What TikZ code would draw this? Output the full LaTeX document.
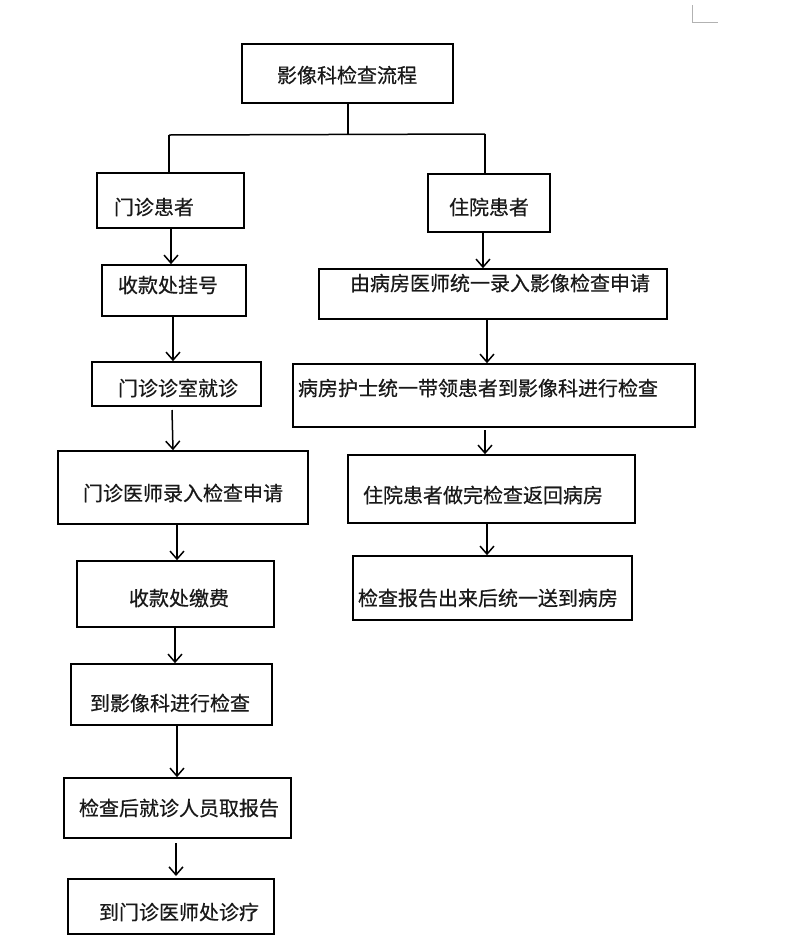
\documentclass[tikz,border=0pt]{standalone}
\usepackage{fontspec}
\newfontfamily\cjk[FakeBold=0.5]{Noto Sans CJK SC}
\usetikzlibrary{arrows.meta,calc}
\begin{document}
\begin{tikzpicture}[x=1pt,y=-1pt,
  box/.style={draw,line width=1.6pt,inner sep=0pt,fill=none},
  txt/.style={font=\cjk\fontsize{20}{24}\selectfont,inner sep=0pt,text=black!90},
  arr/.style={line width=1.5pt,-{Straight Barb[length=8pt,width=14pt,line width=1.5pt]}},
  ln/.style={line width=1.5pt}]
\useasboundingbox (0,0) rectangle (800,946);
\fill[white] (0,0) rectangle (800,946);
% faint corner mark
\draw[black!30,line width=0.6pt] (692,5) -- (692,22) -- (718,22);

% boxes
\node[box,minimum width=211pt,minimum height=59pt] (top)  at (347.5,73.5) {};
\node[box,minimum width=147pt,minimum height=55pt] (mz)   at (170.5,200.5) {};
\node[box,minimum width=122pt,minimum height=58pt] (zy)   at (489,203) {};
\node[box,minimum width=144pt,minimum height=51pt] (skgh) at (174,290.5) {};
\node[box,minimum width=169pt,minimum height=44pt] (mzzs) at (176.5,384) {};
\node[box,minimum width=250pt,minimum height=73pt] (yslr) at (183,487.5) {};
\node[box,minimum width=197pt,minimum height=66pt] (skjf) at (175.5,594) {};
\node[box,minimum width=201pt,minimum height=61pt] (yxjc) at (171.5,694.5) {};
\node[box,minimum width=227pt,minimum height=60pt] (qbg)  at (177.5,808) {};
\node[box,minimum width=206pt,minimum height=55pt] (zl)   at (171,906.5) {};
\node[box,minimum width=348pt,minimum height=50pt] (bfsq) at (493,294) {};
\node[box,minimum width=402pt,minimum height=63pt] (hsdl) at (494,395.5) {};
\node[box,minimum width=287pt,minimum height=68pt] (fhbf) at (491.5,489) {};
\node[box,minimum width=279pt,minimum height=64pt] (bgsd) at (492.5,588) {};

% texts
\node[txt] (t-top)  at (347,75)  {影像科检查流程};
\node[txt] (t-mz)   at (154,207) {门诊患者};
\node[txt] (t-zy)   at (489,207) {住院患者};
\node[txt] (t-skgh) at (168,285) {收款处挂号};
\node[txt] (t-mzzs) at (178,388) {门诊诊室就诊};
\node[txt] (t-yslr) at (183,493) {门诊医师录入检查申请};
\node[txt] (t-skjf) at (179,598) {收款处缴费};
\node[txt] (t-yxjc) at (170,703) {到影像科进行检查};
\node[txt] (t-qbg)  at (179,808) {检查后就诊人员取报告};
\node[txt] (t-zl)   at (179,912) {到门诊医师处诊疗};
\node[txt] (t-bfsq) at (500,283) {由病房医师统一录入影像检查申请};
\node[txt] (t-hsdl) at (478,388) {病房护士统一带领患者到影像科进行检查};
\node[txt] (t-fhbf) at (483,495) {住院患者做完检查返回病房};
\node[txt] (t-bgsd) at (488,598) {检查报告出来后统一送到病房};

% tree connector
\coordinate (jc) at (348,135);
\coordinate (jl) at (169,135);
\coordinate (jr) at (485,134);
\draw[ln] (top.south -| jc) -- (jc);
\draw[ln] (jl) -- (jr);
\draw[ln] (jl) -- (jl |- mz.north);
\draw[ln] (jr) -- (jr |- zy.north);

% left arrows
\draw[arr] (mz.south -| 171,0) -- (skgh.north -| 171,0);
\draw[arr] (skgh.south -| 173,0) -- (mzzs.north -| 173,0);
\draw[arr] (172,410) -- (yslr.north -| 173,0);
\draw[arr] (yslr.south -| 177,0) -- (skjf.north -| 177,0);
\draw[arr] (skjf.south -| 175,0) -- (yxjc.north -| 175,0);
\draw[arr] (yxjc.south -| 177,0) -- (qbg.north -| 177,0);
\draw[arr] (176,843) -- (176,876);

% right arrows
\draw[arr] (zy.south -| 483,0) -- (bfsq.north -| 483,0);
\draw[arr] (bfsq.south -| 487,0) -- (hsdl.north -| 487,0);
\draw[arr] (485,430) -- (fhbf.north -| 485,0);
\draw[arr] (fhbf.south -| 487,0) -- (bgsd.north -| 487,0);
\end{tikzpicture}
\end{document}
